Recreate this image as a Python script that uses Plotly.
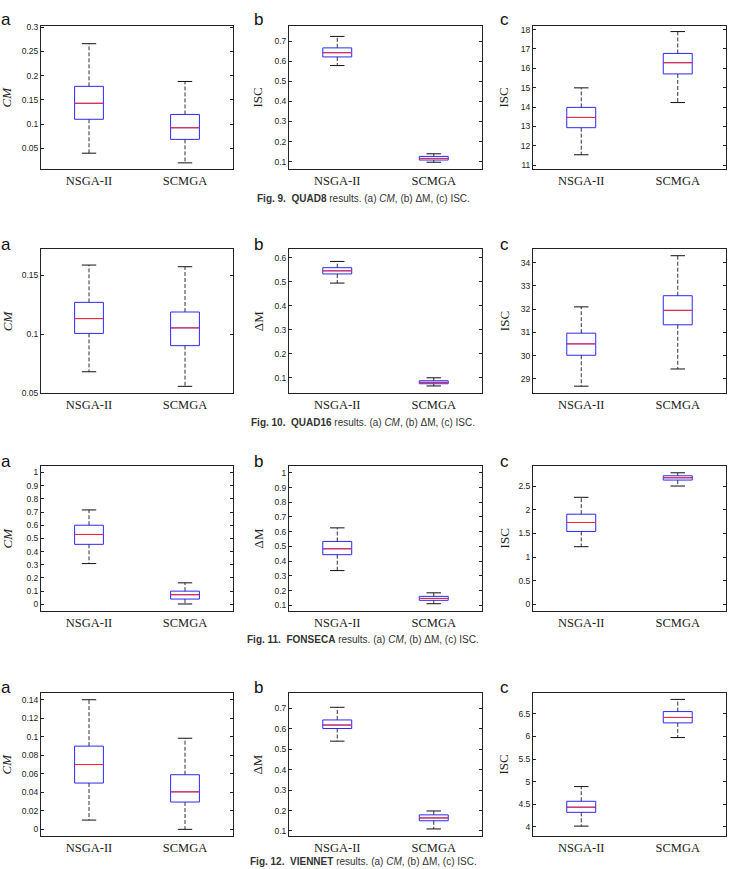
import plotly.graph_objects as go

W, H = 733, 869

methods = ["NSGA-II", "SCMGA"]

# box statistics per method: [lower whisker, Q1, median, Q3, upper whisker]
quad8_cm = [[0.040, 0.110, 0.143, 0.178, 0.266], [0.020, 0.0685, 0.0925, 0.120, 0.188]]
quad8_dm = [[0.578, 0.621, 0.642, 0.666, 0.723], [0.097, 0.108, 0.116, 0.126, 0.139]]
quad8_isc = [[11.53, 12.93, 13.46, 13.98, 14.99], [14.23, 15.71, 16.29, 16.77, 17.90]]

quad16_cm = [[0.068, 0.1006, 0.1132, 0.127, 0.1587], [0.0556, 0.0902, 0.1053, 0.1188, 0.1573]]
quad16_dm = [[0.494, 0.532, 0.545, 0.558, 0.584], [0.066, 0.0753, 0.081, 0.0877, 0.100]]
quad16_isc = [[28.69, 30.02, 30.51, 30.97, 32.10], [29.43, 31.33, 31.95, 32.58, 34.30]]

fonseca_cm = [[0.309, 0.455, 0.530, 0.600, 0.716], [0.0025, 0.040, 0.073, 0.100, 0.163]]
fonseca_dm = [[0.336, 0.444, 0.484, 0.534, 0.626], [0.111, 0.134, 0.147, 0.161, 0.185]]
fonseca_isc = [[1.218, 1.54, 1.73, 1.905, 2.262], [2.50, 2.626, 2.675, 2.717, 2.78]]

viennet_cm = [[0.010, 0.050, 0.070, 0.0899, 0.140], [0.000, 0.0295, 0.0405, 0.059, 0.0984]]
viennet_dm = [[0.540, 0.602, 0.619, 0.644, 0.706], [0.110, 0.150, 0.164, 0.179, 0.198]]
viennet_isc = [[4.015, 4.32, 4.434, 4.565, 4.89], [5.975, 6.30, 6.42, 6.55, 6.82]]

# tick values
quad8_cm_ticks = [0.05, 0.1, 0.15, 0.2, 0.25, 0.3]
quad8_dm_ticks = [0.1, 0.2, 0.3, 0.4, 0.5, 0.6, 0.7]
quad8_isc_ticks = [11, 12, 13, 14, 15, 16, 17, 18]
quad16_cm_ticks = [0.05, 0.1, 0.15]
quad16_dm_ticks = [0.1, 0.2, 0.3, 0.4, 0.5, 0.6]
quad16_isc_ticks = [29, 30, 31, 32, 33, 34]
fonseca_cm_ticks = [0, 0.1, 0.2, 0.3, 0.4, 0.5, 0.6, 0.7, 0.8, 0.9, 1]
fonseca_dm_ticks = [0.1, 0.2, 0.3, 0.4, 0.5, 0.6, 0.7, 0.8, 0.9, 1]
fonseca_isc_ticks = [0, 0.5, 1, 1.5, 2, 2.5]
viennet_cm_ticks = [0, 0.02, 0.04, 0.06, 0.08, 0.1, 0.12, 0.14]
viennet_dm_ticks = [0.1, 0.2, 0.3, 0.4, 0.5, 0.6, 0.7]
viennet_isc_ticks = [4, 4.5, 5, 5.5, 6, 6.5]

captions = [
    "<b>Fig. 9.</b>  <b>QUAD8</b> results. (a) <i>CM</i>, (b) ΔM, (c) ISC.",
    "<b>Fig. 10.</b>  <b>QUAD16</b> results. (a) <i>CM</i>, (b) ΔM, (c) ISC.",
    "<b>Fig. 11.</b>  <b>FONSECA</b> results. (a) <i>CM</i>, (b) ΔM, (c) ISC.",
    "<b>Fig. 12.</b>  <b>VIENNET</b> results. (a) <i>CM</i>, (b) ΔM, (c) ISC.",
]

CM = "<i>CM</i>"
DM = "ΔM"
ISC = "ISC"

panels = [
    (quad8_cm, quad8_cm_ticks, CM, [0.0068, 0.303]),
    (quad8_dm, quad8_dm_ticks, ISC, [0.062, 0.776]),
    (quad8_isc, quad8_isc_ticks, ISC, [10.78, 18.2]),
    (quad16_cm, quad16_cm_ticks, CM, [0.05, 0.172]),
    (quad16_dm, quad16_dm_ticks, DM, [0.037, 0.634]),
    (quad16_isc, quad16_isc_ticks, ISC, [28.4, 34.57]),
    (fonseca_cm, fonseca_cm_ticks, CM, [-0.048, 1.048]),
    (fonseca_dm, fonseca_dm_ticks, DM, [0.064, 1.045]),
    (fonseca_isc, fonseca_isc_ticks, ISC, [-0.133, 2.92]),
    (viennet_cm, viennet_cm_ticks, CM, [-0.0075, 0.1475]),
    (viennet_dm, viennet_dm_ticks, DM, [0.074, 0.777]),
    (viennet_isc, viennet_isc_ticks, ISC, [3.79, 6.966]),
]

# layout (pixels)
col_px = [(41, 233), (289, 482), (533, 726)]
row_px = [(22, 167), (248, 393), (467, 613), (696, 841)]
letter_x = [6, 258, 504]
letter_y = [16, 243, 462, 691]
title_x = [7, 258, 504]
caption_y = [197, 423, 642, 866]

BLUE = "#2a2aff"
RED = "#ff2a2a"
WHISK = "#333333"
BOX_HALF = 0.15
CAP_HALF = 0.075
SERIF = "Liberation Serif, Times New Roman, serif"
SANS = "Liberation Sans, Arial, sans-serif"

fig = go.Figure()
layout = dict(
    width=W, height=H, margin=dict(l=0, r=0, t=0, b=0),
    paper_bgcolor="white", plot_bgcolor="white", showlegend=False,
)
annotations = []

pos = [1, 2]
for idx, (stats, ticks, ytitle, yr) in enumerate(panels):
    r, c = divmod(idx, 3)
    n = idx + 1
    xa = "x" if n == 1 else f"x{n}"
    ya = "y" if n == 1 else f"y{n}"
    lo = [s[0] for s in stats]
    q1 = [s[1] for s in stats]
    med = [s[2] for s in stats]
    q3 = [s[3] for s in stats]
    hi = [s[4] for s in stats]

    fig.add_trace(go.Box(
        x=pos, q1=q1, median=med, q3=q3, lowerfence=q1, upperfence=q3,
        width=2 * BOX_HALF, whiskerwidth=0, fillcolor="white",
        line=dict(color=BLUE, width=1), boxpoints=False,
        xaxis=xa, yaxis=ya, hoverinfo="skip",
    ))
    # whiskers (dashed)
    wx, wy = [], []
    for p, a, b, cq, d in zip(pos, lo, q1, q3, hi):
        wx += [p, p, None, p, p, None]
        wy += [cq, d, None, b, a, None]
    fig.add_trace(go.Scatter(x=wx, y=wy, mode="lines", xaxis=xa, yaxis=ya,
                             line=dict(color=WHISK, width=1, dash="4px,2px"),
                             hoverinfo="skip"))
    # caps
    cx, cy = [], []
    for p, a, d in zip(pos, lo, hi):
        cx += [p - CAP_HALF, p + CAP_HALF, None, p - CAP_HALF, p + CAP_HALF, None]
        cy += [d, d, None, a, a, None]
    fig.add_trace(go.Scatter(x=cx, y=cy, mode="lines", xaxis=xa, yaxis=ya,
                             line=dict(color="#111111", width=1), hoverinfo="skip"))
    # medians
    mx, my = [], []
    for p, m in zip(pos, med):
        mx += [p - BOX_HALF, p + BOX_HALF, None]
        my += [m, m, None]
    fig.add_trace(go.Scatter(x=mx, y=my, mode="lines", xaxis=xa, yaxis=ya,
                             line=dict(color=RED, width=1), hoverinfo="skip"))

    x0, x1 = col_px[c]
    y0, y1 = row_px[r]
    xkey = "xaxis" if n == 1 else f"xaxis{n}"
    ykey = "yaxis" if n == 1 else f"yaxis{n}"
    layout[xkey] = dict(
        domain=[x0 / W, x1 / W], anchor=ya, range=[0.5, 2.5],
        tickmode="array", tickvals=pos, ticktext=methods, ticks="",
        showline=True, mirror=True, linecolor="#222222", linewidth=1,
        showgrid=False, zeroline=False,
        tickfont=dict(family=SERIF, size=12.5, color="#222222"),
    )
    layout[ykey] = dict(
        domain=[1 - y1 / H, 1 - y0 / H], anchor=xa, range=yr,
        tickmode="array", tickvals=ticks, ticktext=[f"{t:g}" for t in ticks],
        ticks="inside", ticklen=3, tickcolor="#222222",
        showline=True, mirror="ticks", linecolor="#222222", linewidth=1,
        showgrid=False, zeroline=False,
        tickfont=dict(family=SANS, size=8.5, color="#222222"),
    )
    # y title
    annotations.append(dict(
        text=ytitle, x=title_x[c] / W, y=1 - (y0 + y1) / 2 / H,
        xref="paper", yref="paper", showarrow=False, textangle=-90,
        xanchor="center", yanchor="middle",
        font=dict(family=SERIF, size=13, color="#222222"),
    ))
    # panel letter
    annotations.append(dict(
        text="abc"[c], x=letter_x[c] / W, y=1 - letter_y[r] / H,
        xref="paper", yref="paper", showarrow=False,
        xanchor="center", yanchor="middle",
        font=dict(family=SANS, size=17, color="#111111"),
    ))

for r, cap in enumerate(captions):
    annotations.append(dict(
        text=cap, x=363 / W, y=1 - caption_y[r] / H,
        xref="paper", yref="paper", showarrow=False,
        xanchor="center", yanchor="middle",
        font=dict(family="Liberation Sans Narrow, Arial Narrow, Liberation Sans, sans-serif",
                  size=10, color="#333333"),
    ))

layout["annotations"] = annotations
fig.update_layout(**layout)
fig.write_html("out.html")
